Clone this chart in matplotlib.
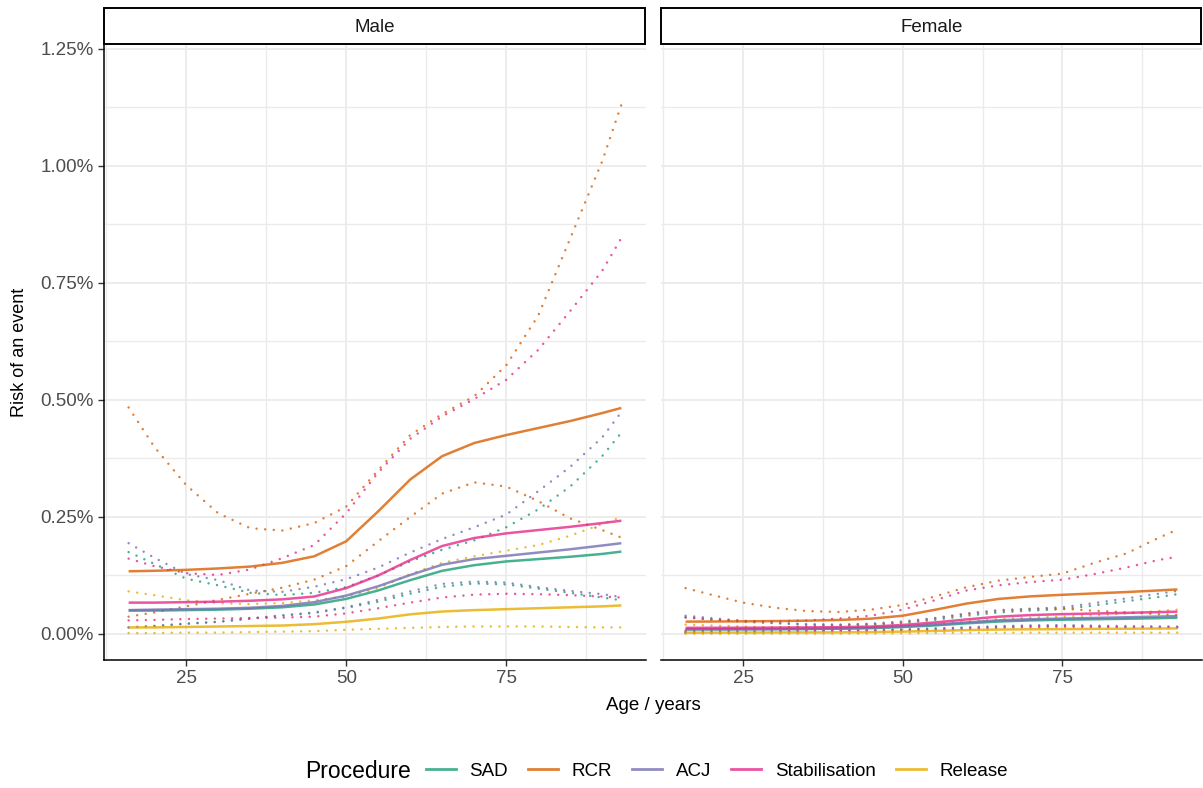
import numpy as np
import matplotlib.pyplot as plt
from matplotlib.ticker import FixedLocator
from matplotlib.lines import Line2D
from matplotlib.patches import Rectangle

plt.rcParams['font.family'] = ['Liberation Sans', 'DejaVu Sans']
plt.rcParams['lines.scale_dashes'] = False

# ages the curves were read at
ages = [16, 20, 25, 30, 35, 40, 45, 50, 55, 60, 65, 70, 75, 80, 85, 90, 93]
procedures = ['SAD', 'RCR', 'ACJ', 'Stabilisation', 'Release']
colours = ['#1B9E77', '#D95F02', '#7570B3', '#E7298A', '#E6AB02']

# ---- Male (risk in %) ----
male_sad_est = [0.050, 0.050, 0.051, 0.052, 0.054, 0.057, 0.063, 0.075, 0.093, 0.115, 0.135, 0.147, 0.155, 0.160, 0.165, 0.171, 0.176]
male_sad_lo = [0.014, 0.017, 0.022, 0.026, 0.033, 0.039, 0.045, 0.056, 0.069, 0.086, 0.101, 0.108, 0.106, 0.097, 0.088, 0.078, 0.072]
male_sad_hi = [0.175, 0.150, 0.118, 0.104, 0.088, 0.083, 0.088, 0.100, 0.125, 0.155, 0.180, 0.200, 0.228, 0.266, 0.315, 0.380, 0.430]

male_rcr_est = [0.134, 0.135, 0.137, 0.140, 0.144, 0.152, 0.166, 0.198, 0.262, 0.330, 0.380, 0.408, 0.425, 0.440, 0.455, 0.472, 0.483]
male_rcr_lo = [0.037, 0.046, 0.059, 0.073, 0.086, 0.099, 0.116, 0.145, 0.198, 0.250, 0.300, 0.324, 0.315, 0.284, 0.247, 0.222, 0.206]
male_rcr_hi = [0.484, 0.400, 0.318, 0.258, 0.226, 0.221, 0.237, 0.272, 0.350, 0.425, 0.470, 0.508, 0.574, 0.680, 0.845, 1.010, 1.131]

male_acj_est = [0.051, 0.052, 0.053, 0.054, 0.056, 0.060, 0.068, 0.082, 0.102, 0.126, 0.148, 0.160, 0.167, 0.174, 0.181, 0.189, 0.194]
male_acj_lo = [0.014, 0.017, 0.022, 0.026, 0.033, 0.040, 0.046, 0.057, 0.073, 0.091, 0.107, 0.112, 0.110, 0.100, 0.092, 0.085, 0.079]
male_acj_hi = [0.194, 0.163, 0.128, 0.115, 0.093, 0.090, 0.101, 0.117, 0.142, 0.174, 0.203, 0.228, 0.255, 0.305, 0.357, 0.420, 0.474]

male_stab_est = [0.067, 0.067, 0.068, 0.069, 0.071, 0.074, 0.080, 0.098, 0.125, 0.158, 0.188, 0.205, 0.215, 0.222, 0.229, 0.237, 0.242]
male_stab_lo = [0.029, 0.030, 0.032, 0.033, 0.034, 0.035, 0.037, 0.044, 0.055, 0.067, 0.078, 0.084, 0.086, 0.085, 0.083, 0.080, 0.078]
male_stab_hi = [0.161, 0.145, 0.130, 0.126, 0.138, 0.162, 0.190, 0.258, 0.345, 0.417, 0.465, 0.502, 0.543, 0.607, 0.690, 0.776, 0.846]

male_rel_est = [0.014, 0.014, 0.015, 0.016, 0.017, 0.018, 0.021, 0.026, 0.033, 0.042, 0.048, 0.051, 0.053, 0.055, 0.057, 0.059, 0.061]
male_rel_lo = [0.002, 0.002, 0.003, 0.003, 0.004, 0.005, 0.006, 0.009, 0.011, 0.013, 0.015, 0.016, 0.016, 0.016, 0.015, 0.014, 0.014]
male_rel_hi = [0.091, 0.083, 0.072, 0.066, 0.064, 0.066, 0.072, 0.080, 0.098, 0.128, 0.152, 0.166, 0.178, 0.190, 0.210, 0.235, 0.250]

# ---- Female (risk in %) ----
female_sad_est = [0.0099, 0.0099, 0.0100, 0.0102, 0.0106, 0.0112, 0.0124, 0.0148, 0.0183, 0.0227, 0.0266, 0.0290, 0.0305, 0.0315, 0.0325, 0.0337, 0.0347]
female_sad_lo = [0.0027, 0.0032, 0.0038, 0.0045, 0.0056, 0.0066, 0.0077, 0.0091, 0.0112, 0.0132, 0.0154, 0.0168, 0.0176, 0.0163, 0.0151, 0.0144, 0.0142]
female_sad_hi = [0.036, 0.031, 0.026, 0.023, 0.020, 0.019, 0.020, 0.024, 0.030, 0.039, 0.046, 0.050, 0.053, 0.061, 0.070, 0.079, 0.085]

female_rcr_est = [0.0264, 0.0266, 0.0270, 0.0276, 0.0284, 0.0299, 0.0327, 0.0390, 0.0516, 0.0650, 0.0749, 0.0804, 0.0837, 0.0867, 0.0896, 0.0930, 0.0952]
female_rcr_lo = [0.0071, 0.0084, 0.0109, 0.0136, 0.0165, 0.0190, 0.0206, 0.0245, 0.0333, 0.0423, 0.0492, 0.0530, 0.0543, 0.0495, 0.0464, 0.0422, 0.0406]
female_rcr_hi = [0.098, 0.084, 0.067, 0.056, 0.049, 0.047, 0.052, 0.062, 0.080, 0.100, 0.114, 0.122, 0.129, 0.152, 0.172, 0.205, 0.223]

female_acj_est = [0.0100, 0.0102, 0.0104, 0.0106, 0.0110, 0.0118, 0.0134, 0.0162, 0.0201, 0.0248, 0.0292, 0.0315, 0.0329, 0.0343, 0.0357, 0.0372, 0.0382]
female_acj_lo = [0.0026, 0.0031, 0.0039, 0.0047, 0.0058, 0.0070, 0.0082, 0.0097, 0.0119, 0.0140, 0.0167, 0.0184, 0.0190, 0.0178, 0.0168, 0.0161, 0.0159]
female_acj_hi = [0.039, 0.034, 0.028, 0.024, 0.021, 0.020, 0.022, 0.027, 0.034, 0.044, 0.051, 0.054, 0.057, 0.066, 0.076, 0.086, 0.092]

female_stab_est = [0.0132, 0.0132, 0.0134, 0.0136, 0.0140, 0.0146, 0.0158, 0.0193, 0.0246, 0.0311, 0.0370, 0.0404, 0.0424, 0.0437, 0.0451, 0.0467, 0.0477]
female_stab_lo = [0.0050, 0.0056, 0.0064, 0.0069, 0.0068, 0.0065, 0.0064, 0.0072, 0.0084, 0.0104, 0.0132, 0.0147, 0.0155, 0.0149, 0.0143, 0.0141, 0.0138]
female_stab_hi = [0.035, 0.031, 0.028, 0.027, 0.029, 0.033, 0.039, 0.052, 0.072, 0.093, 0.104, 0.111, 0.116, 0.128, 0.142, 0.158, 0.165]

female_rel_est = [0.0028, 0.0028, 0.0030, 0.0032, 0.0033, 0.0035, 0.0041, 0.0051, 0.0065, 0.0083, 0.0095, 0.0100, 0.0104, 0.0108, 0.0112, 0.0116, 0.0120]
female_rel_lo = [0.0004, 0.0004, 0.0006, 0.0007, 0.0008, 0.0009, 0.0011, 0.0015, 0.0020, 0.0026, 0.0028, 0.0029, 0.0029, 0.0029, 0.0029, 0.0027, 0.0028]
female_rel_hi = [0.020, 0.018, 0.016, 0.014, 0.0135, 0.014, 0.015, 0.017, 0.021, 0.027, 0.032, 0.035, 0.037, 0.040, 0.044, 0.049, 0.052]

panels = {
    'Male': [(male_sad_est, male_sad_lo, male_sad_hi),
             (male_rcr_est, male_rcr_lo, male_rcr_hi),
             (male_acj_est, male_acj_lo, male_acj_hi),
             (male_stab_est, male_stab_lo, male_stab_hi),
             (male_rel_est, male_rel_lo, male_rel_hi)],
    'Female': [(female_sad_est, female_sad_lo, female_sad_hi),
               (female_rcr_est, female_rcr_lo, female_rcr_hi),
               (female_acj_est, female_acj_lo, female_acj_hi),
               (female_stab_est, female_stab_lo, female_stab_hi),
               (female_rel_est, female_rel_lo, female_rel_hi)],
}

W, H = 1203, 788
fig = plt.figure(figsize=(W / 100, H / 100), dpi=100)

panel_left = {'Male': 104, 'Female': 661}
panel_w = {'Male': 542, 'Female': 541}
ALPHA = 0.8
dots = (0, (0.01, 6.2))

for name in ['Male', 'Female']:
    ax = fig.add_axes([panel_left[name] / W, 1 - 660 / H, panel_w[name] / W, 615 / H])
    for col, (est, lo, hi) in zip(colours, panels[name]):
        for bound in (lo, hi):
            ax.plot(ages, bound, color=col, lw=1.8, ls=dots, alpha=ALPHA,
                    dash_capstyle='round')
    for col, (est, lo, hi) in zip(colours, panels[name]):
        ax.plot(ages, est, color=col, lw=1.8, alpha=ALPHA, solid_capstyle='butt',
                solid_joinstyle='round')

    ax.set_xlim(12.15, 96.85)
    ax.set_ylim(-0.0556, 1.2585)
    ax.xaxis.set_major_locator(FixedLocator([25, 50, 75]))
    ax.xaxis.set_minor_locator(FixedLocator([12.5, 37.5, 62.5, 87.5]))
    yt = np.arange(0, 1.26, 0.25)
    ax.yaxis.set_major_locator(FixedLocator(yt))
    ax.yaxis.set_minor_locator(FixedLocator(yt[:-1] + 0.125))
    ax.grid(which='major', color='#EBEBEB', lw=1.3)
    ax.grid(which='minor', color='#EBEBEB', lw=1.0)
    ax.set_axisbelow(True)
    for s in ['top', 'right']:
        ax.spines[s].set_visible(False)
    ax.spines['bottom'].set_color('black')
    ax.spines['bottom'].set_linewidth(1.1)
    ax.tick_params(which='major', direction='out', length=4.5, width=1.0,
                   color='#333333', labelcolor='#4D4D4D', labelsize=13.5, pad=3)
    ax.tick_params(which='minor', length=0)
    if name == 'Male':
        ax.spines['left'].set_color('black')
        ax.spines['left'].set_linewidth(1.1)
        ax.set_yticklabels([f'{v:.2f}%' for v in yt])
    else:
        ax.spines['left'].set_visible(False)
        ax.tick_params(axis='y', which='both', left=False, labelleft=False)

    # facet strip
    fig.add_artist(Rectangle((panel_left[name] / W, 1 - 44 / H), (panel_w[name] - 1) / W, 36 / H,
                             transform=fig.transFigure, facecolor='white', edgecolor='black', lw=1.4))
    fig.text((panel_left[name] + panel_w[name] / 2) / W, 1 - 27 / H, name,
             ha='center', va='center', fontsize=13.5, color='#1A1A1A')

fig.text(653 / W, 1 - 706 / H, 'Age / years', ha='center', va='center', fontsize=13.5)
fig.text(20 / W, 1 - 352 / H, 'Risk of an event', rotation=90, ha='center', va='center', fontsize=13)

handles = [Line2D([], [], color=c, lw=2.0, alpha=ALPHA) for c in colours]
fig.legend(handles, procedures, loc='center', bbox_to_anchor=(717 / W, 1 - 771 / H), ncol=5,
           frameon=False, fontsize=13.5, handlelength=1.6, handletextpad=0.75,
           columnspacing=1.05, borderpad=0, borderaxespad=0)
fig.text(411 / W, 1 - 771 / H, 'Procedure', ha='right', va='center', fontsize=16.5)

fig.savefig('out.png', dpi=100)
